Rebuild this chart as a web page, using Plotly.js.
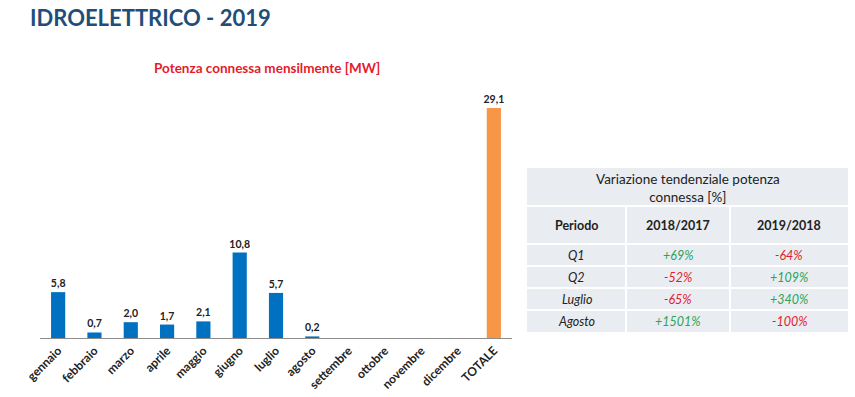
<!DOCTYPE html>
<html>
<head>
<meta charset="utf-8">
<script src="https://cdn.plot.ly/plotly-3.0.1.min.js"></script>
<style>html,body{margin:0;padding:0;background:#fff;}#chart{width:855px;height:397px;}</style>
</head>
<body>
<div id="chart"></div>
<script>
var categories = ['gennaio','febbraio','marzo','aprile','maggio','giugno','luglio','agosto','settembre','ottobre','novembre','dicembre','TOTALE'];
var values = [5.8, 0.7, 2.0, 1.7, 2.1, 10.8, 5.7, 0.2, null, null, null, null, 29.1];
var periods = ['Q1','Q2','Luglio','Agosto'];
var var2018 = ['+69%','-52%','-65%','+1501%'];
var var2019 = ['-64%','+109%','+340%','-100%'];
var tableHeader = ['Periodo','2018/2017','2019/2018'];
var tableTitle = 'Variazione tendenziale potenza<br>connessa [%]';

var FONT = 'Lato, "Open Sans", sans-serif';
var M = {l: 40, r: 7, t: 85, b: 59};
var W = 855, H = 397;
var PW = W - M.l - M.r, PH = H - M.t - M.b;
function px(X){ return (X - M.l) / PW; }
function py(Y){ return (H - M.b - Y) / PH; }

var colors = categories.map(function(c){ return c === 'TOTALE' ? '#F79646' : '#0070C0'; });
var labels = values.map(function(v){ return v == null ? '' : '<b>' + v.toFixed(1).replace('.', ',') + '</b>'; });
function col(v){ return v.charAt(0) === '+' ? '#2EA35A' : '#E41B2C'; }

var bars = {
  type: 'bar', x: categories, y: values,
  marker: {color: colors},
  text: labels, textposition: 'outside', constraintext: 'none',
  textfont: {family: FONT, size: 10.5, color: '#222'},
  cliponaxis: false, hoverinfo: 'none', showlegend: false
};

// table geometry (pixels)
var colX = [527, 626, 730, 848];
var rowY = [168, 206, 244, 266, 288, 310, 332];
var BG = '#E9ECF1';
var shapes = [{type: 'rect', xref: 'paper', yref: 'paper', x0: px(colX[0]), x1: px(colX[3]), y0: py(rowY[6]), y1: py(rowY[0]),
               fillcolor: BG, line: {width: 0}, layer: 'below'}];
for (var r = 1; r < rowY.length - 1; r++) {
  shapes.push({type: 'line', xref: 'paper', yref: 'paper', x0: px(colX[0]), x1: px(colX[3]), y0: py(rowY[r]), y1: py(rowY[r]),
               line: {color: '#fff', width: 2}});
}
for (var c = 1; c < colX.length - 1; c++) {
  shapes.push({type: 'line', xref: 'paper', yref: 'paper', x0: px(colX[c]), x1: px(colX[c]), y0: py(rowY[6]), y1: py(rowY[1]),
               line: {color: '#fff', width: 2}});
}

var annotations = [
  {xref: 'paper', yref: 'paper', x: px(28), y: py(17), xanchor: 'left', yanchor: 'middle',
   text: '<b>IDROELETTRICO - 2019</b>', showarrow: false, font: {family: FONT, size: 22, color: '#1F4E79'}},
  {xref: 'paper', yref: 'paper', x: px(267), y: py(68), xanchor: 'center', yanchor: 'middle',
   text: '<b>Potenza connessa mensilmente [MW]</b>', showarrow: false, font: {family: FONT, size: 13.5, color: '#E41B2C'}},
  {xref: 'paper', yref: 'paper', x: px((colX[0] + colX[3]) / 2), y: py((rowY[0] + rowY[1]) / 2 + 1), xanchor: 'center', yanchor: 'middle',
   text: tableTitle, showarrow: false, font: {family: FONT, size: 13.5, color: '#222'}}
];
function cellAnn(ci, ri, text, color, size){
  annotations.push({xref: 'paper', yref: 'paper', x: px((colX[ci] + colX[ci + 1]) / 2), y: py((rowY[ri] + rowY[ri + 1]) / 2),
    xanchor: 'center', yanchor: 'middle', text: text, showarrow: false, font: {family: FONT, size: size, color: color}});
}
tableHeader.forEach(function(h, i){ cellAnn(i, 1, '<b>' + h + '</b>', '#222', 12.5); });
periods.forEach(function(p, i){
  cellAnn(0, 2 + i, '<i>' + p + '</i>', '#222', 12.5);
  cellAnn(1, 2 + i, '<i>' + var2018[i] + '</i>', col(var2018[i]), 12.5);
  cellAnn(2, 2 + i, '<i>' + var2019[i] + '</i>', col(var2019[i]), 12.5);
});

var layout = {
  width: W, height: H, margin: M,
  paper_bgcolor: '#fff', plot_bgcolor: '#fff',
  bargap: 0.61,
  font: {family: FONT},
  xaxis: {domain: [0, px(512)], showline: true, linecolor: '#8c8c8c', linewidth: 1, ticks: '', tickangle: -45,
          tickfont: {family: FONT, size: 12, color: '#222', weight: 'bold'}, showgrid: false, zeroline: false, fixedrange: true},
  yaxis: {range: [0, 32], visible: false, showgrid: false, zeroline: false, fixedrange: true},
  shapes: shapes,
  annotations: annotations
};

Plotly.newPlot('chart', [bars], layout, {displayModeBar: false, staticPlot: true});
</script>
</body>
</html>
